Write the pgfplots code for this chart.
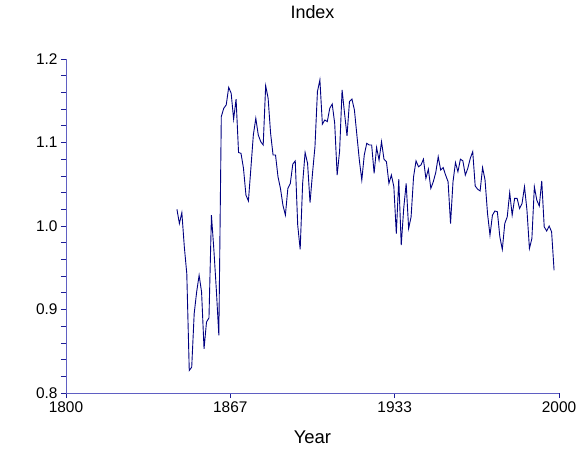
\documentclass[border=0pt]{standalone}
\usepackage{pgfplots}
\pgfplotsset{compat=1.18}
\usepackage{fontspec}
\setmainfont{Liberation Sans}
\definecolor{axisblue}{RGB}{95,95,195}
\definecolor{tickblue}{RGB}{30,30,150}
\definecolor{lineblue}{RGB}{0,0,128}
\pgfplotstableread{
year val
1845 1.020
1846 1.003
1847 1.016
1848 0.975
1849 0.943
1850 0.827
1851 0.831
1852 0.895
1853 0.921
1854 0.941
1855 0.921
1856 0.853
1857 0.885
1858 0.890
1859 1.013
1860 0.971
1861 0.923
1862 0.869
1863 1.131
1864 1.141
1865 1.145
1866 1.166
1867 1.159
1868 1.128
1869 1.152
1870 1.088
1871 1.087
1872 1.069
1873 1.037
1874 1.030
1875 1.069
1876 1.109
1877 1.129
1878 1.109
1879 1.101
1880 1.097
1881 1.168
1882 1.153
1883 1.111
1884 1.085
1885 1.085
1886 1.059
1887 1.045
1888 1.025
1889 1.013
1890 1.045
1891 1.051
1892 1.074
1893 1.078
1894 1.001
1895 0.972
1896 1.051
1897 1.088
1898 1.075
1899 1.028
1900 1.063
1901 1.095
1902 1.161
1903 1.175
1904 1.122
1905 1.127
1906 1.125
1907 1.141
1908 1.146
1909 1.123
1910 1.061
1911 1.090
1912 1.163
1913 1.135
1914 1.108
1915 1.149
1916 1.152
1917 1.139
1918 1.109
1919 1.079
1920 1.055
1921 1.085
1922 1.099
1923 1.097
1924 1.097
1925 1.063
1926 1.094
1927 1.079
1928 1.101
1929 1.080
1930 1.077
1931 1.051
1932 1.061
1933 1.047
1934 0.991
1935 1.056
1936 0.977
1937 1.021
1938 1.051
1939 0.997
1940 1.011
1941 1.059
1942 1.078
1943 1.071
1944 1.073
1945 1.080
1946 1.057
1947 1.068
1948 1.045
1949 1.053
1950 1.064
1951 1.083
1952 1.067
1953 1.070
1954 1.061
1955 1.053
1956 1.003
1957 1.053
1958 1.076
1959 1.065
1960 1.080
1961 1.078
1962 1.061
1963 1.069
1964 1.081
1965 1.089
1966 1.048
1967 1.044
1968 1.042
1969 1.070
1970 1.055
1971 1.015
1972 0.989
1973 1.013
1974 1.018
1975 1.017
1976 0.987
1977 0.972
1978 1.003
1979 1.011
1980 1.040
1981 1.013
1982 1.033
1983 1.033
1984 1.021
1985 1.027
1986 1.047
1987 1.019
1988 0.973
1989 0.985
1990 1.047
1991 1.031
1992 1.024
1993 1.054
1994 0.999
1995 0.994
1996 1.000
1997 0.993
1998 0.947
}\indexdata
\begin{document}
\begin{tikzpicture}
\path[use as bounding box] (0,0) rectangle (578bp,451bp);
\begin{axis}[
  at={(66bp,58bp)}, anchor=south west,
  scale only axis, width=493bp, height=334bp,
  xmin=1800, xmax=2000, ymin=0.8, ymax=1.2,
  axis x line=bottom, axis y line=left,
  axis line style={-, axisblue, line width=0.8bp},
  tick align=outside,
  major tick length=5bp, minor tick length=5bp,
  every tick/.style={tickblue, line width=0.7bp},
  xtick={1800,1866.6667,1933.3333,2000},
  xticklabels={1800,1867,1933,2000},
  minor x tick num=5,
  ytick={0.8,0.9,1.0,1.1,1.2},
  minor y tick num=4,
  yticklabel style={/pgf/number format/.cd, fixed, fixed zerofill, precision=1},
  /pgf/number format/assume math mode=true,
  tick label style={font=\fontsize{15.5}{18}\selectfont},
  title={Index},
  title style={at={(0.5,1)}, anchor=base, yshift=35bp, font=\fontsize{18}{21}\selectfont},
  xlabel={Year},
  xlabel style={at={(0.5,0)}, anchor=base, yshift=-50bp, font=\fontsize{18.5}{21}\selectfont},
]
\addplot[lineblue, line width=0.9bp] table[x=year, y=val] {\indexdata};
\end{axis}
\end{tikzpicture}
\end{document}
